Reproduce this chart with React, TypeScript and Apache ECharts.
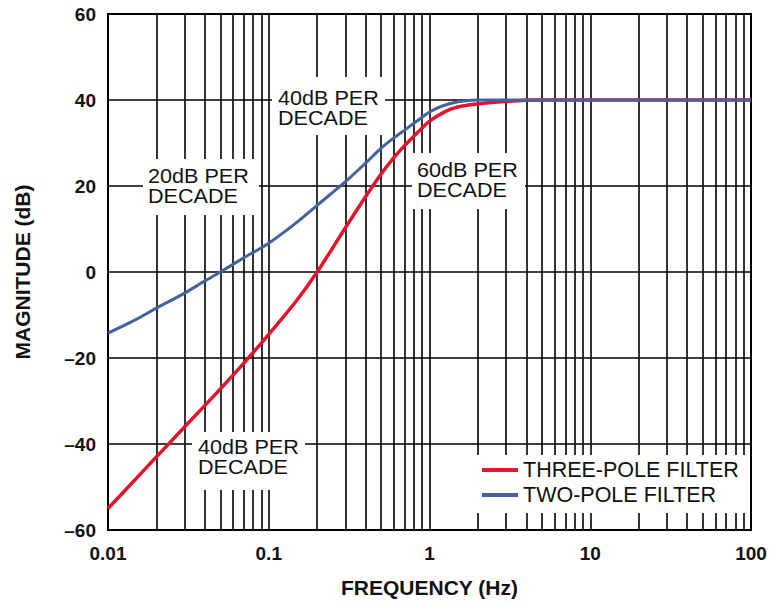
import React, { useEffect, useRef } from 'react';
import * as echarts from 'echarts';

// Frequencies (Hz) and magnitudes (dB)
const freqThreePole = [0.01, 0.015, 0.02, 0.03, 0.05, 0.07, 0.1, 0.15, 0.2, 0.3, 0.4, 0.5, 0.6, 0.7, 0.8, 0.9, 1, 1.3, 1.6, 2, 3, 5, 10, 100];
const threePole = [-55, -48, -43, -36, -27.2, -21.2, -14.5, -6.5, 0, 10.3, 17.5, 22.8, 26.6, 29.4, 31.6, 33.5, 35.1, 37.6, 38.6, 39.1, 39.7, 40, 40, 40];

const freqTwoPole = [0.01, 0.015, 0.02, 0.03, 0.04, 0.05, 0.07, 0.1, 0.15, 0.2, 0.3, 0.4, 0.5, 0.6, 0.7, 0.8, 0.9, 1, 1.2, 1.5, 2, 3, 100];
const twoPole = [-14.2, -11, -8.4, -4.9, -2.1, 0, 3.3, 6.7, 11.6, 15.5, 21, 25.3, 28.8, 31.2, 33, 34.6, 36, 37.2, 38.6, 39.6, 40, 40, 40];

const xTickLabels = ['0.01', '0.1', '1', '10', '100'];
const minorGridFreqs = [
  0.02, 0.03, 0.04, 0.05, 0.06, 0.07, 0.08, 0.09,
  0.2, 0.3, 0.4, 0.5, 0.6, 0.7, 0.8, 0.9,
  2, 3, 4, 5, 6, 7, 8, 9,
  20, 30, 40, 50, 60, 70, 80, 90,
];
const seriesNames = ['THREE-POLE FILTER', 'TWO-POLE FILTER'];
const annotationTexts = [
  '20dB PER\nDECADE',
  '40dB PER\nDECADE',
  '60dB PER\nDECADE',
  '40dB PER\nDECADE',
];

const FONT = '"Liberation Sans", Arial, Helvetica, sans-serif';
const TEXT = '#111';

export default function App() {
  const ref = useRef<HTMLDivElement>(null);
  useEffect(() => {
    if (!ref.current) return;
    const chart = echarts.init(ref.current, null, { renderer: 'svg' });

    const boxes = [
      { x: 143, y: 159, w: 116, h: 56 },
      { x: 272, y: 77, w: 113, h: 58 },
      { x: 412, y: 153, w: 113, h: 56 },
      { x: 192, y: 432, w: 113, h: 58 },
    ];
    const textPos = [
      { x: 148, y: 166 },
      { x: 278, y: 88 },
      { x: 417, y: 160 },
      { x: 198, y: 437 },
    ];

    const graphic: any[] = [];
    boxes.forEach((b) => {
      graphic.push({ type: 'rect', z: 2, silent: true, shape: { x: b.x, y: b.y, width: b.w, height: b.h }, style: { fill: '#fff' } });
    });
    graphic.push({ type: 'rect', z: 2, silent: true, shape: { x: 477, y: 455, width: 271, height: 58 }, style: { fill: '#fff' } });
    annotationTexts.forEach((t, i) => {
      graphic.push({
        type: 'text', z: 5, silent: true, x: textPos[i].x, y: textPos[i].y, scaleX: 1.08,
        style: { text: t, fontFamily: FONT, fontSize: 20, lineHeight: 20, fill: TEXT, textVerticalAlign: 'top', textAlign: 'left' },
      });
    });

    chart.setOption({
      animation: false,
      grid: { left: 108, right: 21, top: 14, bottom: 74, show: true, borderColor: '#000', borderWidth: 2, backgroundColor: 'transparent' },
      xAxis: {
        type: 'log', logBase: 10, min: 0.01, max: 100,
        name: 'FREQUENCY (Hz)', nameLocation: 'middle', nameGap: 47,
        nameTextStyle: { fontFamily: FONT, fontSize: 21, fontWeight: 'bold', color: TEXT },
        axisLine: { show: false }, axisTick: { show: false },
        axisLabel: {
          fontFamily: FONT, fontSize: 19, fontWeight: 'bold', color: TEXT, margin: 14,
          formatter: (v: number) => xTickLabels[Math.round(Math.log10(v)) + 2] ?? '',
        },
        splitLine: { show: true, lineStyle: { color: '#000', width: 1.6 } },
      },
      yAxis: {
        type: 'value', min: -60, max: 60, interval: 20,
        name: 'MAGNITUDE (dB)', nameLocation: 'middle', nameGap: 75, nameRotate: 90,
        nameTextStyle: { fontFamily: FONT, fontSize: 21, fontWeight: 'bold', color: TEXT },
        axisLine: { show: false }, axisTick: { show: false },
        axisLabel: {
          fontFamily: FONT, fontSize: 19, fontWeight: 'bold', color: TEXT, margin: 12,
          formatter: (v: number) => (v < 0 ? '\u2013' + Math.abs(v) : String(v)),
        },
        splitLine: { show: true, lineStyle: { color: '#000', width: 1.6 } },
      },
      legend: {
        orient: 'vertical', left: 477, top: 454, padding: [5, 5, 5, 5],
        itemWidth: 36, itemHeight: 4, itemGap: 3, icon: 'rect',
        textStyle: { fontFamily: FONT, fontSize: 21.5, color: TEXT, lineHeight: 20 },
        data: seriesNames,
      },
      series: [
        {
          type: 'line', z: 1, data: [], silent: true,
          markLine: {
            z: 1, silent: true, symbol: 'none', label: { show: false },
            lineStyle: { color: '#000', width: 1.6, type: 'solid' },
            data: minorGridFreqs.map((f) => ({ xAxis: f })),
          },
        },
        {
          name: seriesNames[0], type: 'line', z: 3, showSymbol: false, symbol: 'none',
          smooth: 0.3,
          lineStyle: { color: '#e4122b', width: 3.5 }, itemStyle: { color: '#e4122b' },
          data: freqThreePole.map((f, i) => [f, threePole[i]]),
        },
        {
          name: seriesNames[1], type: 'line', z: 3, showSymbol: false, symbol: 'none',
          smooth: 0.3,
          lineStyle: { color: '#4462a0', width: 3 }, itemStyle: { color: '#4462a0' },
          data: freqTwoPole.map((f, i) => [f, twoPole[i]]),
        },
      ],
      graphic,
    });
    return () => chart.dispose();
  }, []);
  return <div ref={ref} style={{ position: 'fixed', left: 0, top: 0, width: 772, height: 604, background: '#fff' }} />;
}
